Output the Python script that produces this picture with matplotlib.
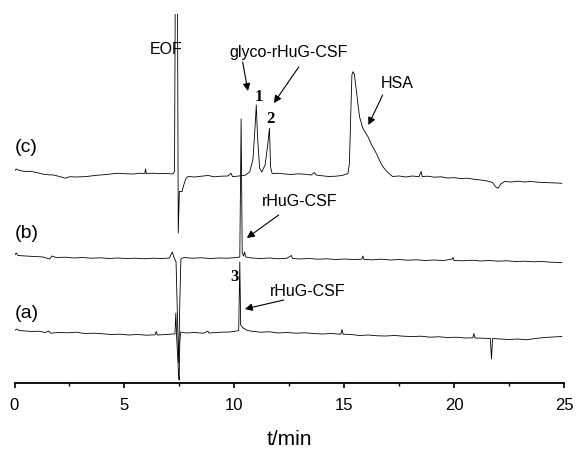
import matplotlib
matplotlib.use("Agg")
import matplotlib.pyplot as plt
import numpy as np

plt.rcParams['font.family'] = ['Liberation Sans', 'DejaVu Sans']

# trace (a): time (min) and detector signal (a.u.)
t_a = [0.00, 0.10, 0.20, 0.50, 0.80, 1.10, 1.40, 1.55, 1.65, 2.00, 2.40, 2.80, 3.20, 3.60,
       4.00, 4.40, 4.80, 5.20, 5.60, 6.00, 6.40, 6.45, 6.50, 6.90, 7.20, 7.30, 7.34, 7.38,
       7.46, 7.49, 7.52, 7.56, 7.80, 8.20, 8.60, 8.80, 8.85, 9.00, 9.40, 9.80, 10.10, 10.20,
       10.25, 10.29, 10.40, 10.60, 10.90, 11.20, 11.60, 12.00, 12.40, 12.80, 13.20, 13.60,
       14.00, 14.40, 14.85, 14.90, 14.95, 15.30, 15.70, 16.10, 16.50, 16.90, 17.30, 17.70,
       18.10, 18.50, 18.90, 19.30, 19.70, 20.10, 20.50, 20.85, 20.90, 20.95, 21.30, 21.65,
       21.70, 21.75, 22.10, 22.50, 22.90, 23.30, 23.70, 24.10, 24.50, 24.90]
s_a = [52.5, 54.0, 52.5, 52.0, 51.5, 51.8, 50.5, 52.0, 49.8, 50.5, 50.2, 50.8, 49.5, 49.8,
       49.2, 48.5, 48.8, 48.0, 48.5, 47.8, 48.2, 51.5, 48.0, 48.5, 49.0, 49.0, 70.0, 45.0,
       10.0, 3.0, 40.0, 51.0, 50.0, 50.5, 49.8, 51.8, 50.0, 50.2, 50.8, 51.0, 52.0, 52.5,
       121.0, 58.0, 55.0, 52.5, 51.5, 50.8, 51.2, 50.0, 50.5, 49.8, 50.2, 49.5,
       49.0, 49.5, 48.8, 53.5, 48.8, 48.5, 47.5, 48.0, 47.2, 47.0, 47.5, 46.8,
       46.5, 46.8, 45.8, 46.2, 45.5, 45.8, 45.0, 45.2, 49.5, 45.0, 44.8, 44.5,
       24.0, 44.5, 44.0, 43.5, 44.0, 43.2, 44.5, 45.5, 46.0, 46.5]

# trace (b)
t_b = [0.00, 0.08, 0.16, 0.50, 0.90, 1.30, 1.60, 1.70, 1.90, 2.30, 2.70, 3.10, 3.50, 3.90,
       4.30, 4.70, 5.10, 5.50, 5.90, 6.30, 6.70, 7.05, 7.18, 7.25, 7.35, 7.42, 7.47, 7.52,
       7.57, 7.70, 8.10, 8.50, 8.90, 9.30, 9.70, 10.10, 10.25, 10.31, 10.36, 10.42, 10.47,
       10.52, 10.80, 11.20, 11.60, 12.00, 12.40, 12.60, 12.65, 13.00, 13.40, 13.80, 14.20,
       14.60, 15.00, 15.40, 15.80, 15.85, 15.90, 16.30, 16.70, 17.10, 17.50, 17.90, 18.30,
       18.70, 19.10, 19.50, 19.90, 19.95, 20.00, 20.40, 20.80, 21.20, 21.60, 22.00, 22.40,
       22.80, 23.20, 23.60, 24.00, 24.40, 24.90]
s_b = [127.5, 130.0, 127.5, 127.0, 126.5, 126.0, 124.0, 127.0, 125.5, 125.8, 125.0, 125.5,
       124.8, 125.2, 124.5, 125.0, 124.5, 124.8, 124.2, 124.8, 124.5, 125.0, 131.0, 126.0,
       121.0, 60.0, 20.0, 80.0, 124.0, 125.5, 124.8, 125.2, 124.5, 125.0, 124.8, 125.5,
       126.0, 264.0, 130.0, 127.0, 131.0, 126.0, 125.0, 124.5, 125.0, 124.2, 124.8, 127.5,
       124.5, 124.0, 124.5, 123.8, 124.2, 123.5, 124.0, 123.5, 123.8, 127.0, 123.5, 123.2,
       123.8, 123.0, 123.5, 122.8, 123.2, 122.5, 123.0, 122.5, 123.8, 125.5, 122.5, 122.2,
       122.8, 122.0, 122.5, 121.8, 122.2, 121.5, 121.8, 121.2, 121.5, 120.8, 120.5]

# trace (c)
t_c = [0.00, 0.08, 0.17, 0.35, 0.50, 0.70, 0.93, 1.10, 1.31, 1.55, 1.77, 2.05, 2.30, 2.52,
       2.80, 3.13, 3.40, 3.65, 3.89, 4.20, 4.45, 4.72, 5.00, 5.40, 5.70, 5.93, 5.96, 6.00,
       6.30, 6.60, 6.90, 7.20, 7.28, 7.32, 7.41, 7.45, 7.50, 7.62, 7.70, 7.80, 7.90, 8.20,
       8.50, 8.80, 9.10, 9.40, 9.70, 9.85, 9.92, 10.20, 10.50, 10.70, 10.85, 10.95, 11.00,
       11.06, 11.15, 11.25, 11.40, 11.52, 11.60, 11.65, 11.72, 12.00, 12.30, 12.60, 12.90,
       13.20, 13.50, 13.65, 13.72, 14.00, 14.30, 14.60, 14.90, 15.17, 15.24, 15.30, 15.35,
       15.40, 15.46, 15.55, 15.63, 15.70, 15.85, 16.08, 16.25, 16.46, 16.62, 16.76, 16.92,
       17.07, 17.20, 17.50, 17.80, 18.10, 18.40, 18.50, 18.55, 18.80, 19.10, 19.40, 19.70,
       20.00, 20.30, 20.60, 20.90, 21.20, 21.50, 21.75, 21.90, 22.00, 22.12, 22.30, 22.60,
       22.90, 23.20, 23.50, 23.80, 24.10, 24.40, 24.70, 24.90]
s_c = [212.0, 214.0, 213.0, 212.0, 211.5, 211.8, 210.8, 210.0, 208.8, 208.2, 208.0, 206.5,
       204.8, 206.3, 206.0, 206.3, 206.8, 207.5, 208.0, 208.5, 209.2, 209.7, 209.3, 209.0,
       209.8, 209.5, 214.0, 209.5, 209.8, 209.3, 209.6, 209.0, 211.5, 420.0, 420.0, 150.0,
       191.5, 191.3, 198.0, 204.5, 206.5, 206.0, 206.8, 207.5, 206.2, 206.8, 207.0, 209.7,
       206.3, 207.0, 207.8, 211.0, 224.0, 258.0, 278.0, 245.0, 215.0, 211.0, 218.0, 238.0,
       254.7, 216.0, 209.5, 209.7, 209.0, 208.5, 209.2, 208.8, 208.0, 210.5, 208.0, 207.2,
       206.5, 206.8, 207.5, 209.5, 220.0, 270.0, 308.0, 311.3, 309.0, 293.0, 278.0, 266.0,
       254.7, 246.3, 238.0, 229.7, 222.0, 216.3, 212.0, 209.0, 206.5, 207.0, 206.0, 207.0,
       206.3, 211.5, 206.5, 206.8, 205.8, 206.2, 205.0, 205.3, 204.5, 204.8, 203.8, 203.0,
       202.0, 200.5, 196.0, 194.7, 199.0, 201.5, 201.0, 201.8, 201.0, 201.5, 200.8, 200.5,
       200.2, 200.0, 199.7]

trace_labels = ['(a)', '(b)', '(c)']
xticks = [0, 5, 10, 15, 20, 25]

fig = plt.figure(figsize=(5.77, 4.54), dpi=100)
ax = fig.add_axes([14.5 / 577, 71 / 454, 549.5 / 577, 369 / 454])

for t, s in [(t_a, s_a), (t_b, s_b), (t_c, s_c)]:
    ax.plot(t, s, color='black', lw=0.6)

ax.set_xlim(0, 25)
ax.set_ylim(0, 369)
ax.set_xticks(xticks)
ax.set_xticks(np.arange(2.5, 25, 5), minor=True)
ax.set_yticks([])
for sp in ['left', 'right', 'top']:
    ax.spines[sp].set_visible(False)
ax.spines['bottom'].set_linewidth(1.3)
ax.tick_params(axis='x', which='major', direction='out', length=3.8, width=1.2,
               labelsize=12, pad=7)
ax.tick_params(axis='x', which='minor', direction='out', length=2, width=1.0)
ax.set_xlabel('t/min', fontsize=15, labelpad=12)

# trace labels
for lab, y in zip(trace_labels, [70, 150, 236]):
    ax.text(0.02, y, lab, fontsize=14, ha='left', va='center')

arrow = dict(arrowstyle='-|>', color='black', lw=0.8, mutation_scale=11,
             shrinkA=0, shrinkB=0)
ax.text(6.91, 333, 'EOF', fontsize=11.5, ha='center', va='center')
ax.text(12.45, 330, 'glyco-rHuG-CSF', fontsize=11.5, ha='center', va='center')
ax.annotate('', xy=(10.62, 292), xytext=(10.38, 321), arrowprops=arrow)
ax.annotate('', xy=(11.8, 280), xytext=(12.93, 316), arrowprops=arrow)
ax.text(11.1, 286, '1', fontsize=12, fontweight='bold', family='Liberation Serif',
        ha='center', va='center')
ax.text(11.65, 264, '2', fontsize=12, fontweight='bold', family='Liberation Serif',
        ha='center', va='center')
ax.text(17.43, 300, 'HSA', fontsize=11.5, ha='center', va='center')
ax.annotate('', xy=(16.1, 258), xytext=(16.75, 288), arrowprops=arrow)
ax.text(12.98, 181, 'rHuG-CSF', fontsize=11.5, ha='center', va='center')
ax.annotate('', xy=(10.57, 145), xytext=(12.02, 168), arrowprops=arrow)
ax.text(13.34, 91, 'rHuG-CSF', fontsize=11.5, ha='center', va='center')
ax.annotate('', xy=(10.48, 74), xytext=(12.25, 83), arrowprops=arrow)
ax.text(10.02, 106, '3', fontsize=12, fontweight='bold', family='Liberation Serif',
        ha='center', va='center')

fig.savefig('out.png', dpi=100)
